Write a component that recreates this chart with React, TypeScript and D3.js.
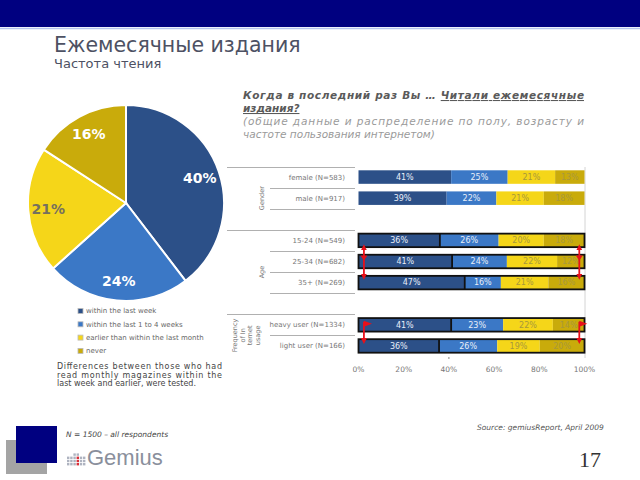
import React from 'react';
import * as d3 from 'd3';

// ---------- data ----------
const pieLabels = [
  'within the last week',
  'within the last 1 to 4 weeks',
  'earlier than within the last month',
  'never',
];
const pieValues = [40, 24, 21, 16];
const seriesColors = ['#2c5088', '#3b78c6', '#f5d619', '#c9ab0b'];
const seriesTextColors = ['#e8eef8', '#e8eef8', '#a8983c', '#a8983c'];
const pieTextColors = ['#ffffff', '#ffffff', '#75705e', '#ffffff'];

const rowKeys = ['female', 'male', 'gap1', '15-24', '25-34', '35+', 'gap2', 'heavy', 'light'];
const rowLabels = ['female (N=583)', 'male (N=917)', '', '15-24 (N=549)', '25-34 (N=682)', '35+ (N=269)', '', 'heavy user (N=1334)', 'light user (N=166)'];
const lastWeek = [41, 39, 0, 36, 41, 47, 0, 41, 36];
const oneToFourWeeks = [25, 22, 0, 26, 24, 16, 0, 23, 26];
const earlierThanMonth = [21, 21, 0, 20, 22, 21, 0, 22, 19];
const never = [13, 18, 0, 18, 12, 16, 0, 14, 20];
const outlined = [false, false, false, true, true, true, false, true, true];
const axisTicks = [0, 0.2, 0.4, 0.6, 0.8, 1];

const groupNames = [
  { lines: ['Gender'], from: 0, to: 3 },
  { lines: ['Age'], from: 3, to: 7 },
  { lines: ['Frequency', 'of In', 'ternet', 'usage'], from: 7, to: 9 },
];

const FONT = '"DejaVu Sans", Verdana, sans-serif';

export default function App() {
  // ----- pie -----
  const cx = 126, cy = 203, r = 98;
  const pie = d3.pie<number>().sort(null).value((d) => d);
  const arcs = pie(pieValues);
  const arcGen = d3.arc<d3.PieArcDatum<number>>().innerRadius(0).outerRadius(r);
  const labelArc = d3.arc<d3.PieArcDatum<number>>().innerRadius(78).outerRadius(78);

  // ----- bars -----
  const x = d3.scaleLinear().domain([0, 1]).range([358.5, 584.5]);
  const y = d3.scaleBand<string>().domain(rowKeys).range([166.5, 356.5]).paddingInner(0.36).paddingOuter(0.18);
  const step = y.step();
  const top0 = 166.5;
  const series = [lastWeek, oneToFourWeeks, earlierThanMonth, never];

  const rows = rowKeys.map((k, i) => {
    const vals = series.map((s) => s[i]);
    const total = d3.sum(vals);
    let acc = 0;
    const segs = vals.map((v, j) => {
      const x0 = total ? acc / total : 0;
      acc += v;
      const x1 = total ? acc / total : 0;
      return { v, j, x0, x1 };
    });
    return { k, i, total, segs };
  });

  const rowCenter = (k: string) => (y(k) as number) + y.bandwidth() / 2;
  const arrowL = x(0.024);
  const arrowR = x(0.977);

  // gemius grid
  const gridCols = [0, 1, 2, 3, 4, 5];
  const gridRows = [0, 1, 2, 3, 4, 5];

  return (
    <svg width={640} height={480} style={{ position: 'absolute', left: 0, top: 0, background: '#fff' }} fontFamily={FONT}>
      <defs>
        <marker id="ah" viewBox="0 0 10 10" refX="5" refY="5" markerWidth="3.4" markerHeight="3.4" orient="auto-start-reverse">
          <path d="M0,0 L10,5 L0,10 z" fill="#e8101a" />
        </marker>
      </defs>
      {/* header */}
      <rect x={0} y={0} width={640} height={27} fill="#000080" />
      <line x1={0} x2={640} y1={28.5} y2={28.5} stroke="#b4c4ee" strokeWidth={1.5} />
      <text x={54} y={52} fontSize={20.5} fill="#4d5163">Ежемесячные издания</text>
      <text x={54} y={68} fontSize={13} fill="#4d5163">Частота чтения</text>

      {/* question */}
      <g fontSize={10.5} fontStyle="italic">
        <text x={243} y={99} fontWeight="bold" fill="#5a5a5a" textLength={341} lengthAdjust="spacing">
          Когда в последний раз Вы … <tspan textDecoration="underline">Читали ежемесячные</tspan>
        </text>
        <text x={243} y={112} fontWeight="bold" fill="#5a5a5a" textDecoration="underline">издания?</text>
        <text x={243} y={125} fill="#9a9a9a" textLength={341} lengthAdjust="spacing">(общие данные и распределение по полу, возрасту и</text>
        <text x={243} y={138} fill="#9a9a9a">частоте пользования интернетом)</text>
      </g>

      {/* pie */}
      <g transform={`translate(${cx},${cy})`}>
        {arcs.map((a, i) => (
          <path key={i} d={arcGen(a) as string} fill={seriesColors[i]} stroke="#fff" strokeWidth={2} />
        ))}
        {arcs.map((a, i) => {
          const [lx, ly] = labelArc.centroid(a);
          return (
            <text key={i} x={lx} y={ly} dy="0.35em" textAnchor="middle" fontSize={14} fontWeight="bold" fill={pieTextColors[i]}>
              {pieValues[i]}%
            </text>
          );
        })}
      </g>

      {/* legend */}
      <g fontSize={7} fill="#666">
        {pieLabels.map((l, i) => (
          <g key={i} transform={`translate(78,${311 + i * 13.3})`}>
            <rect x={0} y={-2.5} width={5} height={5} fill={seriesColors[i]} stroke="#bbb" strokeWidth={0.8} />
            <text x={8} y={0} dy="0.35em">{l}</text>
          </g>
        ))}
      </g>

      {/* note */}
      <g fontSize={8} fill="#444">
        <text x={57} y={369} textLength={165} lengthAdjust="spacing">Differences between those who had</text>
        <text x={57} y={377.5} textLength={165} lengthAdjust="spacing">read monthly magazines within the</text>
        <text x={57} y={386}>last week and earlier, were tested.</text>
      </g>

      {/* label table */}
      <g stroke="#b0b0b0" strokeWidth={1}>
        {d3.range(0, 9).map((i) => {
          const full = i === 0 || i === 3 || i === 7;
          const yy = Math.round(top0 + i * step) + 0.5;
          return <line key={i} x1={full ? 227 : 270} x2={355} y1={yy} y2={yy} />;
        })}
      </g>
      <g fontSize={7} fill="#777" textAnchor="end">
        {rows.map((row) =>
          rowLabels[row.i] ? (
            <text key={row.k} x={345} y={rowCenter(row.k)} dy="0.35em">{rowLabels[row.i]}</text>
          ) : null
        )}
      </g>
      <g fontSize={6.5} fill="#777" textAnchor="middle">
        {groupNames.map((g, gi) => {
          const cyG = top0 + ((g.from + g.to) / 2) * step;
          const n = g.lines.length;
          const gx = n === 1 ? 262 : 246;
          return (
            <text key={gi} transform={`translate(${gx},${cyG}) rotate(-90)`}>
              {g.lines.map((ln, li) => (
                <tspan key={li} x={0} y={(li - (n - 1) / 2) * 7.5} dy="0.35em">{ln}</tspan>
              ))}
            </text>
          );
        })}
      </g>

      {/* plot border */}
      <line x1={585} x2={585} y1={167} y2={358} stroke="#d4d4d4" strokeWidth={1} />
      <line x1={x(0.4)} x2={x(0.4)} y1={357} y2={359} stroke="#888" strokeWidth={1} />

      {/* bars */}
      {rows.map((row) =>
        row.total ? (
          <g key={row.k}>
            {row.segs.map((s) => (
              <rect key={s.j} x={x(s.x0)} y={y(row.k)} width={x(s.x1) - x(s.x0)} height={y.bandwidth()} fill={seriesColors[s.j]} />
            ))}
            {outlined[row.i] && (
              <>
                <rect x={x(0)} y={y(row.k)} width={x(1) - x(0)} height={y.bandwidth()} fill="none" stroke="#111" strokeWidth={1.8} />
                <line x1={x(row.segs[0].x1)} x2={x(row.segs[0].x1)} y1={y(row.k)} y2={(y(row.k) as number) + y.bandwidth()} stroke="#111" strokeWidth={1.8} />
              </>
            )}
            {row.segs.map((s) => (
              <text key={'t' + s.j} x={(x(s.x0) + x(s.x1)) / 2} y={rowCenter(row.k)} dy="0.35em" textAnchor="middle" fontSize={8} fill={seriesTextColors[s.j]}>
                {s.v}%
              </text>
            ))}
          </g>
        ) : null
      )}

      {/* x axis labels */}
      <g fontSize={7.5} fill="#777" textAnchor="middle">
        {axisTicks.map((t) => (
          <text key={t} x={x(t)} y={372}>{d3.format('.0%')(t)}</text>
        ))}
      </g>

      {/* red significance arrows */}
      <g stroke="#e8101a" strokeWidth={1.8} fill="#e8101a">
        {[arrowL, arrowR].map((ax, i) => (
          <g key={i}>
            <line x1={ax} x2={ax} y1={rowCenter('15-24') + 7} y2={rowCenter('35+') - 6} markerStart="url(#ah)" markerEnd="url(#ah)" />
            <path d={`M${ax - 3.5},${rowCenter('25-34') - 6} L${ax + 3.5},${rowCenter('25-34') - 6} L${ax},${rowCenter('25-34') - 1} z`} stroke="none" />
            <path d={`M${ax},${rowCenter('heavy') - 4} L${ax + 8},${rowCenter('heavy') - 1} L${ax},${rowCenter('heavy') + 2} z`} stroke="none" />
            <line x1={ax} x2={ax} y1={rowCenter('heavy') - 3} y2={rowCenter('light') - 5} markerEnd="url(#ah)" />
          </g>
        ))}
      </g>

      {/* footer */}
      <rect x={6} y={440} width={41} height={34} fill="#a4a4a4" />
      <rect x={16} y={426} width={41} height={37} fill="#000080" />
      <text x={66} y={437} fontSize={7.5} fontStyle="italic" fill="#444">N = 1500 – all respondents</text>
      <text x={477} y={430} fontSize={7.5} fontStyle="italic" fill="#555">Source: gemiusReport, April 2009</text>
      <text x={579} y={467} fontSize={22} fontFamily='"Liberation Serif", serif' fill="#333">17</text>
      <g>
        {gridCols.map((c) =>
          gridRows.map((rr) => {
            const show = rr >= 5 - Math.min(c, 5 - c) - 1 || rr >= 3;
            if (!show) return null;
            const red = c === 3 && rr >= 3;
            return (
              <rect key={c + '-' + rr} x={67 + c * 3.2} y={447 + rr * 3.2} width={2.4} height={2.4} fill={red ? '#d8303a' : '#aeb3c0'} />
            );
          })
        )}
      </g>
      <text x={87} y={465} fontSize={22} fontFamily='"Liberation Sans", Arial, sans-serif' fill="#8a8f9c">Gemius</text>
    </svg>
  );
}
